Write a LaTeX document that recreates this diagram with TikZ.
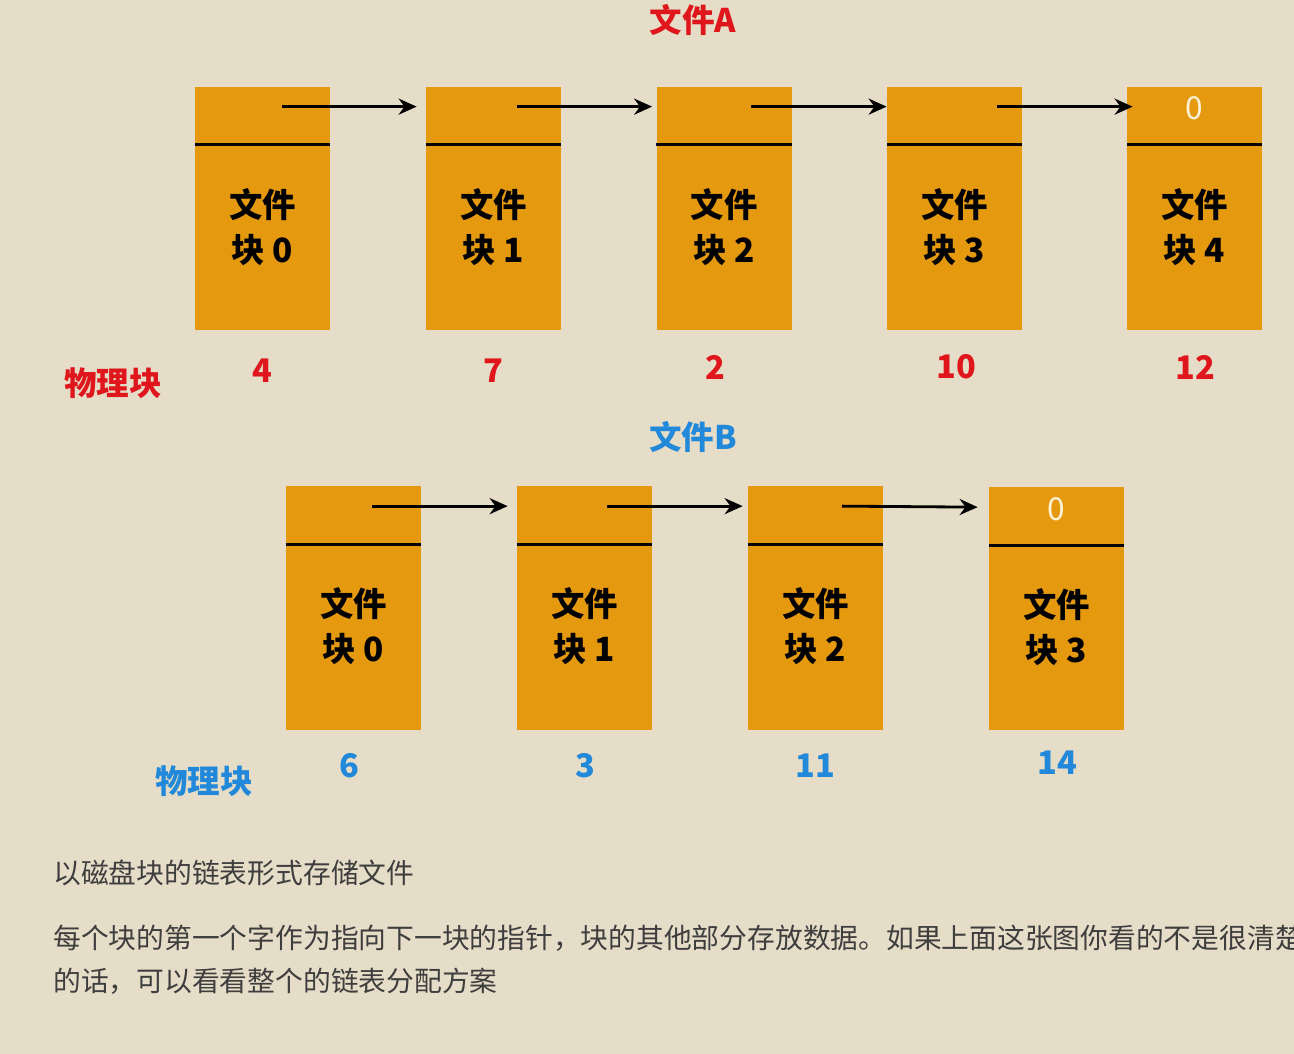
\documentclass[tikz,border=0pt]{standalone}
\usepackage{fontspec}
\newfontfamily\cjk{Noto Sans CJK SC}
\usetikzlibrary{arrows.meta}
\definecolor{bgtan}{HTML}{E6DDC8}
\definecolor{blkorange}{HTML}{E4990E}
\definecolor{labred}{HTML}{DF161B}
\definecolor{labblue}{HTML}{2288DA}
\definecolor{zerocream}{HTML}{FDF1D6}
\definecolor{notegray}{HTML}{3E3E3E}
\begin{document}
\begin{tikzpicture}[
    blk/.style={
        rectangle,
        fill=blkorange,
        minimum width=2.7cm,
        minimum height=4.86cm,
        inner sep=0pt
    },
    divider/.style={
        line width=1.6pt
    },
    link/.style={
        line width=1.6pt,
        -{Stealth[length=3.6mm,width=3.2mm]}
    },
    lbl/.style={
        align=center,
        font=\cjk\bfseries\fontsize{19}{25.6}\selectfont
    },
    numred/.style={
        text=labred,
        font=\cjk\bfseries\fontsize{18.5}{22}\selectfont
    },
    numblue/.style={
        text=labblue,
        font=\cjk\bfseries\fontsize{18.5}{22}\selectfont
    },
    zero/.style={
        text=zerocream,
        font=\cjk\fontsize{18}{22}\selectfont
    },
    note/.style={
        anchor=west,
        inner sep=0pt,
        text=notegray,
        font=\cjk\fontsize{15.8}{20}\selectfont
    }
]

% Background
\fill[bgtan] (0,0) rectangle (25.88,-21.08);
\useasboundingbox (0,0) rectangle (25.88,-21.08);

% Nodes: file A
\node[numred] (titleA) at (13.86,-0.40) {文件A};

\node[blk] (a0) at (5.25,-4.17) {};
\node[blk] (a1) at (9.87,-4.17) {};
\node[blk] (a2) at (14.48,-4.17) {};
\node[blk] (a3) at (19.09,-4.17) {};
\node[blk] (a4) at (23.89,-4.17) {};

\node[lbl] (a0t) at (5.25,-4.55) {文件\\块 0};
\node[lbl] (a1t) at (9.87,-4.55) {文件\\块 1};
\node[lbl] (a2t) at (14.48,-4.55) {文件\\块 2};
\node[lbl] (a3t) at (19.09,-4.55) {文件\\块 3};
\node[lbl] (a4t) at (23.89,-4.55) {文件\\块 4};
\node[zero] (a4z) at (23.89,-2.16) {0};

\node[numred] (physA) at (2.26,-7.66) {物理块};
\node[numred] (na0) at (5.24,-7.42) {4};
\node[numred] (na1) at (9.86,-7.42) {7};
\node[numred] (na2) at (14.30,-7.34) {2};
\node[numred] (na3) at (19.12,-7.34) {10};
\node[numred] (na4) at (23.90,-7.34) {12};

% Nodes: file B
\node[numblue] (titleB) at (13.86,-8.74) {文件B};

\node[blk] (b0) at (7.07,-12.16) {};
\node[blk] (b1) at (11.69,-12.16) {};
\node[blk] (b2) at (16.31,-12.16) {};
\node[blk] (b3) at (21.13,-12.18) {};

\node[lbl] (b0t) at (7.07,-12.53) {文件\\块 0};
\node[lbl] (b1t) at (11.69,-12.53) {文件\\块 1};
\node[lbl] (b2t) at (16.31,-12.53) {文件\\块 2};
\node[lbl] (b3t) at (21.13,-12.55) {文件\\块 3};
\node[zero] (b3z) at (21.13,-10.18) {0};

\node[numblue] (physB) at (4.08,-15.62) {物理块};
\node[numblue] (nb0) at (6.98,-15.32) {6};
\node[numblue] (nb1) at (11.70,-15.32) {3};
\node[numblue] (nb2) at (16.30,-15.32) {11};
\node[numblue] (nb3) at (21.14,-15.26) {14};

% Dividers
\foreach \b in {a0,a1,a2,a3,a4}
    \draw[divider] ([yshift=-1.16cm]\b.north west) -- ([yshift=-1.16cm]\b.north east);
\foreach \b in {b0,b1,b2,b3}
    \draw[divider] ([yshift=-1.16cm]\b.north west) -- ([yshift=-1.16cm]\b.north east);

% Edges
\draw[link] ([xshift=0.39cm,yshift=-0.4cm]a0.north) -- ([xshift=-0.18cm,yshift=-0.4cm]a1.north west);
\draw[link] ([xshift=0.46cm,yshift=-0.4cm]a1.north) -- ([xshift=-0.08cm,yshift=-0.4cm]a2.north west);
\draw[link] ([xshift=0.54cm,yshift=-0.4cm]a2.north) -- ([yshift=-0.4cm]a3.north west);
\draw[link] ([xshift=0.85cm,yshift=-0.4cm]a3.north) -- ([xshift=0.12cm,yshift=-0.4cm]a4.north west);

\draw[link] ([xshift=0.37cm,yshift=-0.4cm]b0.north) -- ([xshift=-0.18cm,yshift=-0.4cm]b1.north west);
\draw[link] ([xshift=0.45cm,yshift=-0.4cm]b1.north) -- ([xshift=-0.1cm,yshift=-0.4cm]b2.north west);
\draw[link] ([xshift=0.53cm,yshift=-0.4cm]b2.north) -- ([xshift=-0.22cm,yshift=-0.4cm]b3.north west);

% Notes
\node[note] (note1) at (1.06,-17.46) {以磁盘块的链表形式存储文件};
\node[note] (note2) at (1.06,-18.76) {每个块的第一个字作为指向下一块的指针，块的其他部分存放数据。如果上面这张图你看的不是很清楚};
\node[note] (note3) at (1.06,-19.62) {的话，可以看看整个的链表分配方案};

\end{tikzpicture}
\end{document}
